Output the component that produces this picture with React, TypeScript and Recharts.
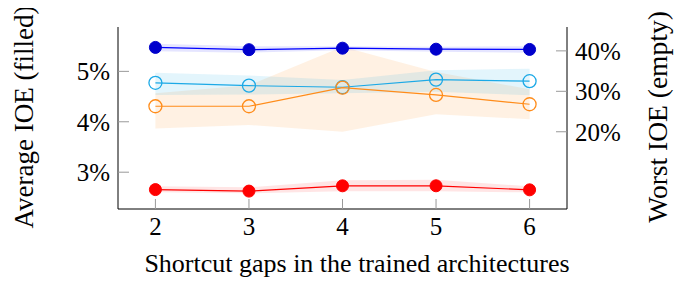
import React from 'react';
import { ComposedChart, Line, Area, XAxis, YAxis } from 'recharts';

const gaps = [2, 3, 4, 5, 6];

// average IOE (filled markers, left axis, %)
const avgBlue = [5.475, 5.43, 5.46, 5.44, 5.435];
const avgBlueLow = [5.4, 5.37, 5.42, 5.39, 5.37];
const avgBlueHigh = [5.55, 5.5, 5.5, 5.49, 5.5];
const avgRed = [2.655, 2.625, 2.73, 2.73, 2.65];
const avgRedLow = [2.6, 2.58, 2.62, 2.62, 2.6];
const avgRedHigh = [2.72, 2.7, 2.84, 2.85, 2.72];

// worst IOE (empty markers, right axis, %)
const worstCyan = [32.1, 31.4, 31.0, 32.9, 32.5];
const worstCyanLow = [29.1, 29.2, 29.5, 29.9, 29.0];
const worstCyanHigh = [34.6, 33.9, 32.8, 35.2, 35.6];
const worstOrange = [26.3, 26.3, 30.9, 29.1, 26.8];
const worstOrangeLow = [20.8, 21.7, 20.0, 24.3, 23.1];
const worstOrangeHigh = [29.5, 31.5, 41.0, 34.8, 30.5];

const leftTicks = [3, 4, 5];
const rightTicks = [20, 30, 40];

const data = gaps.map((g, i) => ({
  gap: g,
  blue: avgBlue[i],
  blueBand: [avgBlueLow[i], avgBlueHigh[i]],
  red: avgRed[i],
  redBand: [avgRedLow[i], avgRedHigh[i]],
  cyan: worstCyan[i],
  cyanBand: [worstCyanLow[i], worstCyanHigh[i]],
  orange: worstOrange[i],
  orangeBand: [worstOrangeLow[i], worstOrangeHigh[i]],
}));

const FONT = '"Liberation Serif", "DejaVu Serif", serif';
const TICK_GRAY = '#999';
const TICK_LEN = 10;
const LABEL_GAP = 8;
const TICK_FONT = 25;

const BottomTick = ({ x, y, payload }: any) => (
  <g>
    <line x1={x} x2={x} y1={y - LABEL_GAP} y2={y - LABEL_GAP - TICK_LEN} stroke={TICK_GRAY} />
    <text x={x} y={y} dy={18} textAnchor="middle" fontFamily={FONT} fontSize={TICK_FONT} fill="#000">
      {payload.value}
    </text>
  </g>
);

const TopTick = ({ x, y }: any) => (
  <line x1={x} x2={x} y1={y} y2={y + TICK_LEN} stroke={TICK_GRAY} />
);

const LeftTick = ({ x, y, payload }: any) => (
  <g>
    <line x1={x + LABEL_GAP} x2={x + LABEL_GAP + TICK_LEN + 1} y1={y} y2={y} stroke={TICK_GRAY} />
    <text x={x} y={y} dy={9} textAnchor="end" fontFamily={FONT} fontSize={TICK_FONT} fill="#000">
      {payload.value}%
    </text>
  </g>
);

const RightTick = ({ x, y, payload }: any) => (
  <g>
    <line x1={x - LABEL_GAP} x2={x - LABEL_GAP - TICK_LEN - 1} y1={y} y2={y} stroke={TICK_GRAY} />
    <text x={x} y={y} dy={9} textAnchor="start" fontFamily={FONT} fontSize={TICK_FONT} fill="#000">
      {payload.value}%
    </text>
  </g>
);

// rotated axis title centred on a given x, at the plot's vertical middle
const sideTitle = (text: string, cx: number, size: number) => (props: any) => {
  const vb = props.viewBox || {};
  const cy = (vb.y ?? 27) + (vb.height ?? 182) / 2 - 1;
  return (
    <text x={cx} y={cy} transform={`rotate(-90, ${cx}, ${cy})`} textAnchor="middle" dominantBaseline="central"
      fontFamily={FONT} fontSize={size} fill="#000">
      {text}
    </text>
  );
};

const bottomTitle = () => (
  <text x={357} y={272} textAnchor="middle" fontFamily={FONT} fontSize={26} fill="#000">
    Shortcut gaps in the trained architectures
  </text>
);

export default function App() {
  return (
    <div style={{ width: 689, height: 282, marginLeft: -8, marginTop: -8, background: '#fff' }}>
      <ComposedChart width={689} height={282} data={data} margin={{ top: 27, right: 0, bottom: 0, left: 0 }}>
        <XAxis
          xAxisId="bottom"
          dataKey="gap"
          type="number"
          domain={[1.6, 6.4]}
          ticks={gaps}
          height={73}
          tickSize={0}
          tickMargin={LABEL_GAP}
          tickLine={false}
          axisLine={{ stroke: '#000' }}
          tick={<BottomTick />}
          label={{ content: bottomTitle }}
        />
        <XAxis
          xAxisId="top"
          orientation="top"
          dataKey="gap"
          type="number"
          domain={[1.6, 6.4]}
          ticks={gaps}
          height={0}
          tickSize={0}
          tickMargin={0}
          tickLine={false}
          axisLine={{ stroke: '#000' }}
          tick={<TopTick />}
        />
        <YAxis
          yAxisId="left"
          type="number"
          domain={[2.27, 5.88]}
          ticks={leftTicks}
          width={118}
          tickSize={0}
          tickMargin={LABEL_GAP}
          tickLine={false}
          axisLine={{ stroke: '#000' }}
          tick={<LeftTick />}
          label={{ content: sideTitle('Average IOE (filled)', 24, 27) }}
        />
        <YAxis
          yAxisId="right"
          orientation="right"
          type="number"
          domain={[0.9, 45.9]}
          ticks={rightTicks}
          width={122}
          tickSize={0}
          tickMargin={LABEL_GAP}
          tickLine={false}
          axisLine={{ stroke: '#000' }}
          tick={<RightTick />}
          label={{ content: sideTitle('Worst IOE (empty)', 657, 27.5) }}
        />

        <Area xAxisId="bottom" yAxisId="right" dataKey="orangeBand" type="linear" stroke="none" fill="#ff8c1a" fillOpacity={0.12} isAnimationActive={false} />
        <Area xAxisId="bottom" yAxisId="right" dataKey="cyanBand" type="linear" stroke="none" fill="#1ca9e6" fillOpacity={0.12} isAnimationActive={false} />
        <Area xAxisId="bottom" yAxisId="left" dataKey="blueBand" type="linear" stroke="none" fill="#0000ff" fillOpacity={0.1} isAnimationActive={false} />
        <Area xAxisId="bottom" yAxisId="left" dataKey="redBand" type="linear" stroke="none" fill="#ff0000" fillOpacity={0.1} isAnimationActive={false} />

        <Line xAxisId="bottom" yAxisId="right" dataKey="cyan" type="linear" stroke="#1ca9e6" strokeWidth={1.2}
          dot={{ r: 6.5, fill: 'none', stroke: '#1ca9e6', strokeWidth: 1.3 }} isAnimationActive={false} />
        <Line xAxisId="bottom" yAxisId="right" dataKey="orange" type="linear" stroke="#ff8c1a" strokeWidth={1.2}
          dot={{ r: 6.5, fill: 'none', stroke: '#ff8c1a', strokeWidth: 1.3 }} isAnimationActive={false} />
        <Line xAxisId="bottom" yAxisId="left" dataKey="blue" type="linear" stroke="#0000ff" strokeWidth={1.2}
          dot={{ r: 6, fill: '#0000cc', stroke: '#0000cc', strokeWidth: 1 }} isAnimationActive={false} />
        <Line xAxisId="bottom" yAxisId="left" dataKey="red" type="linear" stroke="#ff0000" strokeWidth={1.2}
          dot={{ r: 6, fill: '#ff0000', stroke: '#ff0000', strokeWidth: 1 }} isAnimationActive={false} />
      </ComposedChart>
    </div>
  );
}
